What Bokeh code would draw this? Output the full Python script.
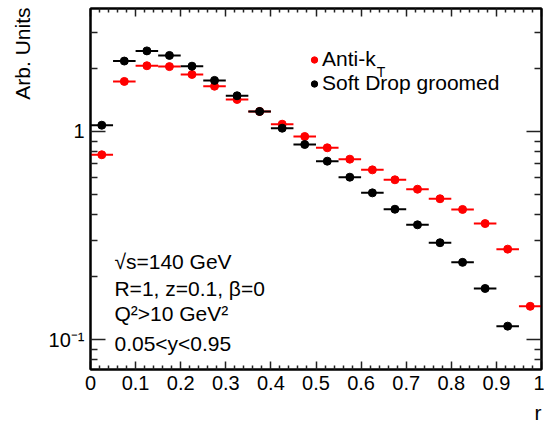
import math
import numpy as np
from bokeh.plotting import figure
from bokeh.models import (FixedTicker, LinearAxis, LogAxis, Label, Legend, LegendItem,
                          ColumnDataSource, Title)
from bokeh.embed import file_html
from bokeh.resources import INLINE

# ---------------- data ----------------
r_centers = [0.025, 0.075, 0.125, 0.175, 0.225, 0.275, 0.325, 0.375, 0.425, 0.475,
             0.525, 0.575, 0.625, 0.675, 0.725, 0.775, 0.825, 0.875, 0.925, 0.975]
bin_half_width = 0.025
antikt = [0.773, 1.74, 2.07, 2.05, 1.88, 1.65, 1.425, 1.248, 1.084, 0.946,
          0.835, 0.736, 0.654, 0.586, 0.528, 0.475, 0.422, 0.361, 0.272, 0.1445]
softdrop = [1.072, 2.18, 2.44, 2.32, 2.06, 1.76, 1.485, 1.248, 1.037, 0.866,
            0.720, 0.603, 0.507, 0.423, 0.356, 0.292, 0.235, 0.176, 0.116, float("nan")]

x_ticks = [0.0, 0.1, 0.2, 0.3, 0.4, 0.5, 0.6, 0.7, 0.8, 0.9, 1.0]
x_tick_labels = ["0", "0.1", "0.2", "0.3", "0.4", "0.5", "0.6", "0.7", "0.8", "0.9", "1"]
x_minor = [0.02, 0.04, 0.06, 0.08, 0.12, 0.14, 0.16, 0.18, 0.22, 0.24, 0.26, 0.28,
           0.32, 0.34, 0.36, 0.38, 0.42, 0.44, 0.46, 0.48, 0.52, 0.54, 0.56, 0.58,
           0.62, 0.64, 0.66, 0.68, 0.72, 0.74, 0.76, 0.78, 0.82, 0.84, 0.86, 0.88,
           0.92, 0.94, 0.96, 0.98]
y_ticks = [0.1, 1.0]
y_tick_labels = ["10\u207b\u00b9", "1"]
y_minor = [0.08, 0.09, 0.2, 0.3, 0.4, 0.5, 0.6, 0.7, 0.8, 0.9, 2.0, 3.0]

series_names = ["Anti-k", "Soft Drop groomed"]
annotations = ["\u221as=140 GeV", "R=1, z=0.1, \u03b2=0", "Q\u00b2>10 GeV\u00b2", "0.05<y<0.95"]
x_title = "r"
y_title = "Arb. Units"

# ---------------- layout ----------------
W, H = 544, 426
FL, FR, FT, FB = 89, 541, 8, 369
YMIN, YMAX = 0.0718, 3.9
FONT = "Liberation Sans"


def px_x(px):
    return (px - FL) / (FR - FL)


def px_y(py):
    lo, hi = math.log10(YMIN), math.log10(YMAX)
    return 10 ** (hi - (py - FT) / (FB - FT) * (hi - lo))


p = figure(width=W, height=H, x_range=(0, 1), y_range=(YMIN, YMAX), y_axis_type="log",
           output_backend="svg", toolbar_location=None,
           min_border_left=FL, min_border_right=W - FR, min_border_top=FT, min_border_bottom=H - FB)
p.xgrid.visible = False
p.ygrid.visible = False
p.outline_line_color = "black"
p.outline_line_width = 2
p.background_fill_color = "white"
p.border_fill_color = "white"


def style_axis(ax, major, minor, labels=True):
    ax.axis_line_width = 2
    ax.axis_line_color = "black"
    ax.major_tick_in = major
    ax.major_tick_out = 0
    ax.minor_tick_in = minor
    ax.minor_tick_out = 0
    ax.major_tick_line_width = 1.5
    ax.minor_tick_line_width = 1.5
    ax.major_tick_line_color = "#222222"
    ax.minor_tick_line_color = "#222222"
    ax.major_label_text_font = FONT
    ax.major_label_text_color = "black"
    if labels:
        ax.major_label_text_font_size = "20px"
        ax.major_label_standoff = 6
    else:
        ax.major_label_text_font_size = "0px"
        ax.major_label_standoff = 0


xt = FixedTicker(ticks=x_ticks, minor_ticks=x_minor)
yt = FixedTicker(ticks=y_ticks, minor_ticks=y_minor)

xa = p.xaxis[0]
xa.ticker = xt
xa.major_label_overrides = dict(zip(x_ticks, x_tick_labels))
style_axis(xa, 8, 4)

ya = p.yaxis[0]
ya.ticker = yt
ya.major_label_overrides = dict(zip(y_ticks, y_tick_labels))
style_axis(ya, 15, 7)

top = LinearAxis(ticker=xt)
style_axis(top, 8, 4, labels=False)
top.major_label_overrides = {t: "" for t in x_ticks}
p.add_layout(top, "above")

right = LogAxis(ticker=yt)
style_axis(right, 15, 7, labels=False)
right.major_label_overrides = {t: "" for t in y_ticks}
p.add_layout(right, "right")

# y-axis title (side-panel title so it can sit at the top end of the axis)
p.add_layout(Title(text=y_title, align="right", vertical_align="top", offset=-1, standoff=20,
                   text_font=FONT, text_font_size="21px", text_font_style="normal",
                   text_color="black"), "left")
# x-axis title placed in the panel below the x axis
p.add_layout(Label(x=FR - FL - 1, y=3, x_units="screen", y_units="screen", text=x_title,
                   text_font=FONT, text_font_size="21px", text_align="right",
                   text_baseline="alphabetic", text_color="black"), "below")

# ---------------- data marks ----------------
r = np.array(r_centers)
renderers = []
for vals, color in [(antikt, "#ff0000"), (softdrop, "#000000")]:
    v = np.array(vals)
    src = ColumnDataSource(dict(x=r, x0=r - bin_half_width, x1=r + bin_half_width, y=v))
    p.segment(x0="x0", y0="y", x1="x1", y1="y", source=src, line_color=color, line_width=2)
    sc = p.scatter(x="x", y="y", source=src, size=8, marker="circle",
                   fill_color=color, line_color=color)
    renderers.append(sc)

legend = Legend(items=[LegendItem(label=n, renderers=[rr]) for n, rr in zip(series_names, renderers)],
                location=(305 - FL, FB - 95), orientation="vertical",
                border_line_alpha=0, background_fill_alpha=0, padding=0, margin=0, spacing=0,
                glyph_width=16, glyph_height=21, label_height=21, label_standoff=0,
                label_text_font=FONT, label_text_font_size="21px", label_text_color="black")
p.add_layout(legend)

# subscript T of Anti-k_T
p.add_layout(Label(x=px_x(376), y=px_y(71), text="T", text_font=FONT, text_font_size="14px",
                   text_align="left", text_baseline="middle", text_color="black"))

# ---------------- texts ----------------
for txt, py in zip(annotations, [261, 288, 313, 343]):
    p.add_layout(Label(x=px_x(113), y=px_y(py), text=txt, text_font=FONT, text_font_size="21px",
                       text_align="left", text_baseline="middle", text_color="black"))

open("out.html", "w").write(file_html(p, INLINE))
